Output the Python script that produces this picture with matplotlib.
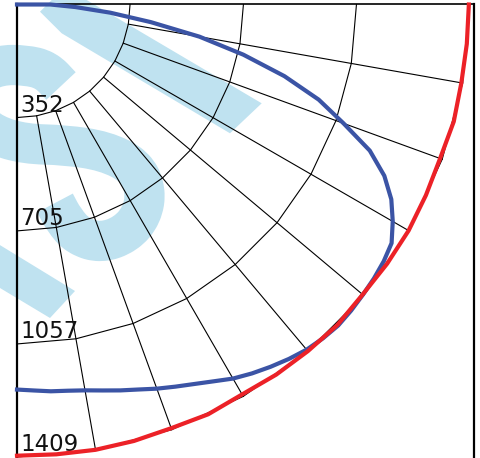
import numpy as np
import matplotlib
matplotlib.use('Agg')
import matplotlib.pyplot as plt
from matplotlib.patches import Polygon, PathPatch
from matplotlib.path import Path

# candela distribution, angle from nadir (deg)
blue_angles = [0, 2.5, 5, 7.5, 10, 12.5, 15, 17.5, 20, 22.5, 25, 27.5, 30, 32.5, 35, 37.5,
               40, 42.5, 45, 47.5, 50, 52.5, 55, 57.5, 60, 62.5, 65, 67.5, 70, 72.5,
               75, 77.5, 80, 82.5, 85, 87.5, 90]
blue_cd = [1199, 1203, 1209, 1213, 1220, 1231, 1244, 1257, 1273, 1288, 1304, 1323,
           1345, 1362, 1377, 1391, 1403, 1410, 1414, 1411, 1406, 1401, 1394, 1383,
           1351, 1314, 1262, 1189, 1082, 985, 862, 722, 577, 420, 291, 182, 104]
red_angles = [0, 5, 10, 15, 20, 25, 30, 35, 40, 45, 50, 55, 60, 65, 70, 75, 80, 85, 90]
red_cd = [1405, 1406, 1408, 1407, 1404, 1408, 1402, 1407, 1409, 1411, 1405, 1407,
          1408, 1405, 1402, 1408, 1405, 1406, 1407]

ring_values = [352, 705, 1057, 1409]
ring_labels = ['352', '705', '1057', '1409']
grid_angles = [0, 10, 20, 30, 40, 50, 60, 70, 80, 90]

W, H = 481, 458
ox, oy = 17, 4.5            # origin in pixels
s = 452.5 / 1409            # pixels per cd

def to_xy(theta_deg, r):
    t = np.radians(np.asarray(theta_deg, dtype=float))
    r = np.asarray(r, dtype=float)
    return r * np.sin(t), -r * np.cos(t)

def smooth_path(pts):
    # quadratic bezier through midpoints of the control polygon
    pts = np.asarray(pts, dtype=float)
    verts = [pts[0], (pts[0] + pts[1]) / 2]
    codes = [Path.MOVETO, Path.LINETO]
    for i in range(1, len(pts) - 1):
        verts += [pts[i], (pts[i] + pts[i + 1]) / 2]
        codes += [Path.CURVE3, Path.CURVE3]
    verts.append(pts[-1])
    codes.append(Path.LINETO)
    return Path(verts, codes)

fig = plt.figure(figsize=(W / 100, H / 100), dpi=100)

# background watermark, pixel coords
bg = fig.add_axes([0, 0, 1, 1])
bg.set_xlim(0, W)
bg.set_ylim(H, 0)
bg.axis('off')
wm = '#bfe2f0'
bg.add_patch(Polygon([(40, 11.7), (61.7, 33.3), (230, 133.3), (261.7, 103.3), (64.7, -13)],
                     closed=True, color=wm, lw=0))
bg.add_patch(Polygon([(-10, 239), (75, 291), (50, 318), (-10, 282)],
                     closed=True, color=wm, lw=0))
s_line = [(61, 86), (46, 70), (25, 65), (0, 65), (-22, 75), (-32, 96), (-26, 118),
          (-6, 135), (25, 144), (65, 145), (105, 151), (135, 166), (146, 190),
          (142, 215), (126, 234), (101, 243), (78, 236), (64, 220), (55, 203)]
bg.add_patch(PathPatch(smooth_path(s_line), fill=False, edgecolor=wm, lw=29,
                       capstyle='butt', joinstyle='round'))

# main polar-like axes
ax = fig.add_axes([0, 0, 1, 1])
ax.patch.set_alpha(0)
ax.set_xlim(-ox / s, (W - ox) / s)
ax.set_ylim(-(H - oy) / s, oy / s)
ax.axis('off')

# rings as polylines
for r in ring_values:
    gx, gy = to_xy(grid_angles, [r] * len(grid_angles))
    ax.plot(gx, gy, color='black', lw=0.8, zorder=2)

# radial lines from the first ring outwards
for a in grid_angles[1:-1]:
    gx, gy = to_xy([a, a], [ring_values[0], ring_values[-1]])
    ax.plot(gx, gy, color='black', lw=0.8, zorder=2)

# frame lines
right_x = (474 - ox) / s
ax.plot([0, right_x], [0, 0], color='black', lw=1.2, zorder=3)
ax.plot([0, 0], [0, -(H - oy) / s - 5], color='black', lw=1.6, zorder=3)
ax.plot([right_x, right_x], [0, -(H - oy) / s - 5], color='black', lw=1.6, zorder=3)

# ring labels
for r, lab in zip(ring_values, ring_labels):
    ax.text(3 / s, -r + 6 / s, lab, fontsize=16.5, color='#111111',
            ha='left', va='baseline', zorder=4)

# curves
bx, by = to_xy(blue_angles + [90], blue_cd + [0])
ax.plot(bx, by, color='#3b54a5', lw=3, solid_joinstyle='round', zorder=5)
rx, ry = to_xy(red_angles, red_cd)
ax.plot(rx, ry, color='#ec2127', lw=3, solid_joinstyle='round', zorder=6)

fig.savefig('out.png', dpi=100)
